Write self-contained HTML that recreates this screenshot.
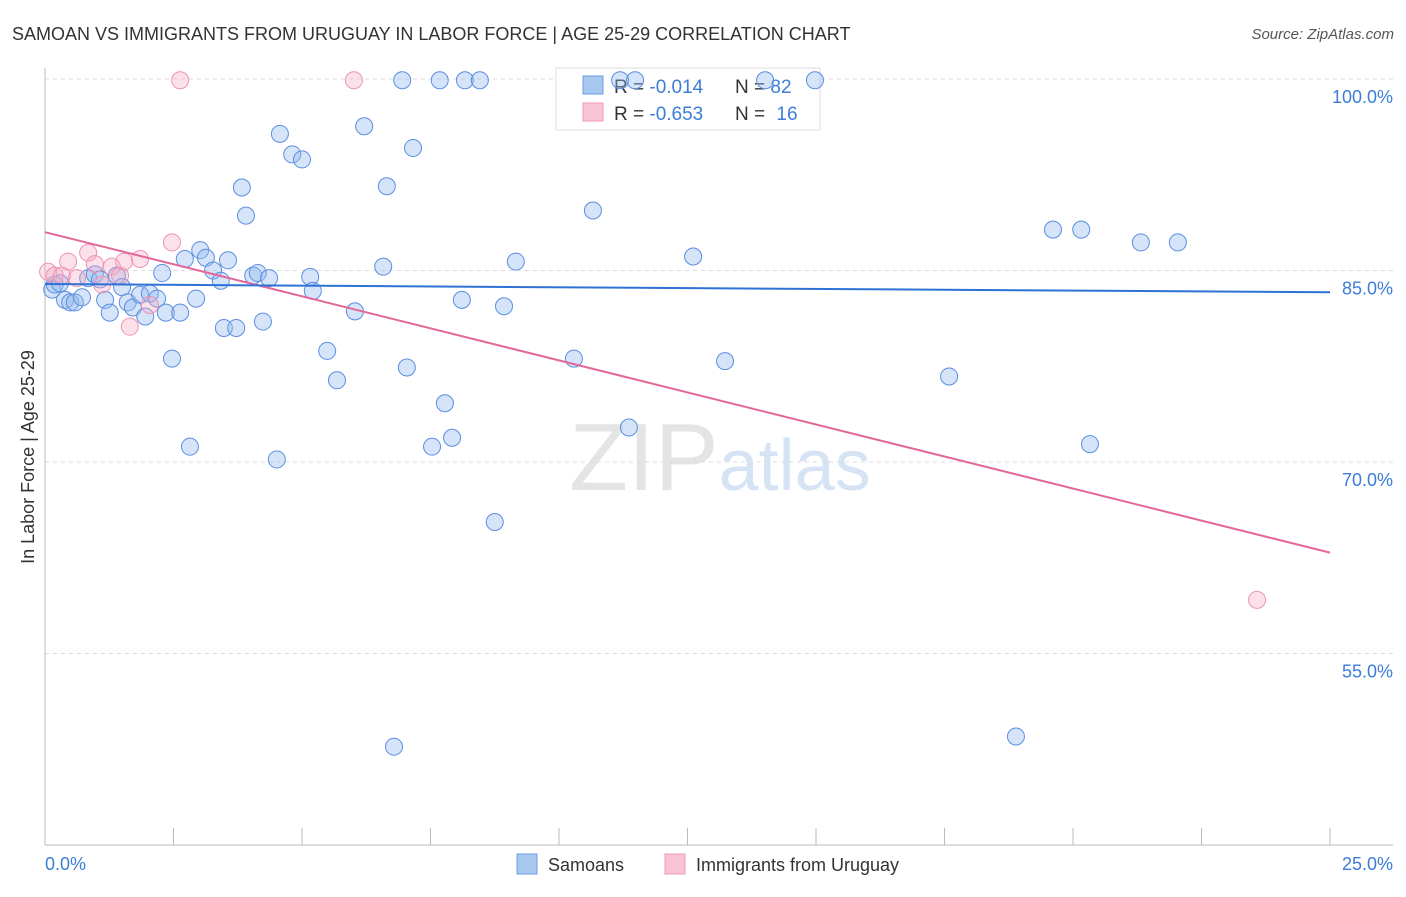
<!DOCTYPE html>
<html><head><meta charset="utf-8"><style>
body{margin:0;background:#fff;font-family:"Liberation Sans",sans-serif}
svg text{font-family:"Liberation Sans",sans-serif}
</style></head><body>
<svg id="chart" width="1406" height="892">
<text x="12" y="40" font-size="18" fill="#333">SAMOAN VS IMMIGRANTS FROM URUGUAY IN LABOR FORCE | AGE 25-29 CORRELATION CHART</text>
<text x="1394" y="39" font-size="15" fill="#555" font-style="italic" text-anchor="end">Source: ZipAtlas.com</text>
<text x="720" y="490" font-size="96" fill="#e4e4e4" text-anchor="middle" font-family="Liberation Serif">ZIP<tspan fill="#d6e3f5" font-family="Liberation Sans" font-size="72">atlas</tspan></text>
<g id="grid"></g><g id="axes"></g>
<g>
<rect x="556" y="68" width="264" height="62" fill="#fff" stroke="#ddd"/>
<rect x="583" y="76" width="20" height="18" fill="#a9c8f0" stroke="#6b9de0"/>
<rect x="583" y="103" width="20" height="18" fill="#f8c4d5" stroke="#ee9ab8"/>
<text x="614" y="93" font-size="19" fill="#333">R = <tspan fill="#3b7dd8">-0.014</tspan></text>
<text x="735" y="93" font-size="19" fill="#333">N = <tspan fill="#3b7dd8">82</tspan></text>
<text x="614" y="120" font-size="19" fill="#333">R = <tspan fill="#3b7dd8">-0.653</tspan></text>
<text x="735" y="120" font-size="19" fill="#333">N = <tspan fill="#3b7dd8" dx="6">16</tspan></text>
</g>
<g id="marks"></g>
<text transform="translate(34,457) rotate(-90)" font-size="18" fill="#333" text-anchor="middle">In Labor Force | Age 25-29</text>
<text x="45" y="870" font-size="18" fill="#3b7dd8">0.0%</text>
<text x="1393" y="870" font-size="18" fill="#3b7dd8" text-anchor="end">25.0%</text>
<g>
<rect x="517" y="854" width="20" height="20" fill="#a9c8f0" stroke="#6b9de0"/>
<text x="548" y="871" font-size="18" fill="#333">Samoans</text>
<rect x="665" y="854" width="20" height="20" fill="#f8c4d5" stroke="#ee9ab8"/>
<text x="696" y="871" font-size="18" fill="#333">Immigrants from Uruguay</text>
</g>
</svg>
<script>
const yTicks=[100,85,70,55];
const yTickLabels=["100.0%","85.0%","70.0%","55.0%"];
const xTicks=[2.5,5,7.5,10,12.5,15,17.5,20,22.5,25];
const samoanX=[0.14,0.19,0.29,0.39,0.49,0.58,0.72,0.84,0.97,1.07,1.17,1.26,1.40,1.50,1.61,1.71,1.85,1.95,2.04,2.18,2.28,2.35,2.47,2.63,2.72,2.82,2.94,3.02,3.13,3.27,3.42,3.48,3.56,3.72,3.83,3.91,4.05,4.14,4.24,4.36,4.51,4.57,4.81,5.00,5.16,5.21,5.49,5.68,6.03,6.21,6.58,6.65,6.79,6.95,7.04,7.16,7.53,7.68,7.78,7.92,8.11,8.17,8.46,8.75,8.93,9.16,10.29,10.66,11.36,12.61,13.23,14.98,17.59,18.89,19.61,20.16,20.33,21.32,22.04,11.19,11.48,14.01];
const samoanY=[83.5,83.9,84.0,82.7,82.5,82.5,82.9,84.4,84.7,84.3,82.7,81.7,84.6,83.7,82.5,82.1,83.1,81.4,83.2,82.8,84.8,81.7,78.1,81.7,85.9,71.2,82.8,86.6,86.0,85.0,84.2,80.5,85.8,80.5,91.5,89.3,84.6,84.8,81.0,84.4,70.2,95.7,94.1,93.7,84.5,83.4,78.7,76.4,81.8,96.3,85.3,91.6,47.7,99.9,77.4,94.6,71.2,99.9,74.6,71.9,82.7,99.9,99.9,65.3,82.2,85.7,78.1,89.7,72.7,86.1,77.9,99.9,76.7,48.5,88.2,88.2,71.4,87.2,87.2,99.9,99.9,99.9];
const uruguayX=[0.06,0.19,0.33,0.45,0.62,0.84,0.97,1.11,1.30,1.46,1.54,1.65,1.85,2.04,2.47,2.63,6.01,23.58];
const uruguayY=[84.9,84.6,84.6,85.7,84.4,86.4,85.5,83.9,85.3,84.6,85.7,80.6,85.9,82.3,87.2,99.9,99.9,59.2];
const samoanTrend=[83.94,83.3];
const uruguayTrend=[88.0,62.9];
const NS="http://www.w3.org/2000/svg";
const xs=v=>45+v/25*1285;
const ys=v=>79+(100-v)/15*191.5;
function mk(tag,attrs,parent){const e=document.createElementNS(NS,tag);for(const k in attrs)e.setAttribute(k,attrs[k]);document.getElementById(parent).appendChild(e);return e;}
yTicks.forEach((t,i)=>{
 const l=mk('line',{x1:45,x2:1393,y1:ys(t),y2:ys(t),stroke:'#ddd','stroke-dasharray':'4,4'},'grid');
 
 
 const tx=mk('text',{x:1393,y:ys(t)+24,'font-size':18,fill:'#3b7dd8','text-anchor':'end'},'grid');
 tx.textContent=yTickLabels[i];
 
 
});
let a=mk('line',{x1:45,x2:45,y1:68,y2:845,stroke:'#bbb'},'axes');


a=mk('line',{x1:45,x2:1393,y1:845,y2:845,stroke:'#bbb'},'axes');


xTicks.forEach(t=>{
 const l=mk('line',{x1:xs(t),x2:xs(t),y1:828,y2:845,stroke:'#bbb'},'axes');
 
 
});
samoanX.forEach((x,i)=>{
 const c=mk('circle',{cx:xs(x),cy:ys(samoanY[i]),r:8.5,fill:'rgba(150,188,238,0.4)',stroke:'#5b8ee0','stroke-width':1},'marks');
 
 
});
uruguayX.forEach((x,i)=>{
 const c=mk('circle',{cx:xs(x),cy:ys(uruguayY[i]),r:8.5,fill:'rgba(245,170,195,0.35)',stroke:'#ec94b4','stroke-width':1},'marks');
 
 
});
let tl=mk('line',{x1:xs(0),y1:ys(uruguayTrend[0]),x2:xs(25),y2:ys(uruguayTrend[1]),stroke:'#e4679a','stroke-width':2},'marks');


tl=mk('line',{x1:xs(0),y1:ys(samoanTrend[0]),x2:xs(25),y2:ys(samoanTrend[1]),stroke:'#2f72d6','stroke-width':2},'marks');


</script>
</body></html>
